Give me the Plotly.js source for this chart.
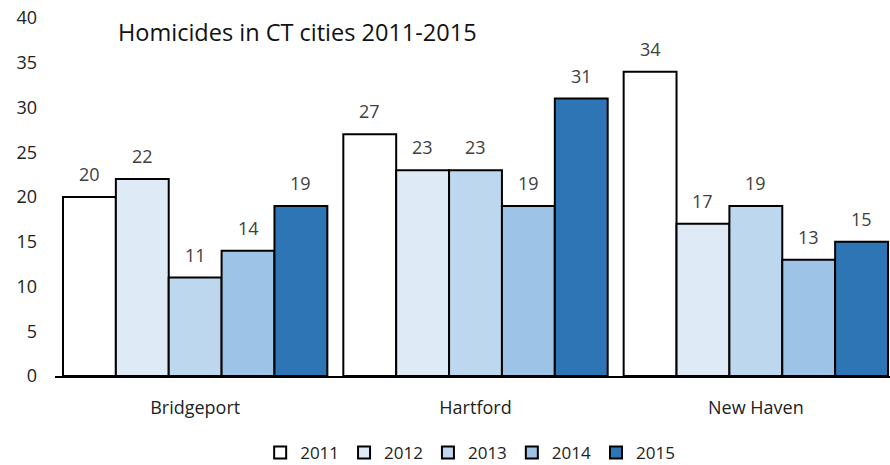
<!DOCTYPE html>
<html><head><meta charset="utf-8">
<script src="https://cdn.plot.ly/plotly-3.0.1.min.js"></script>
<style>html,body{margin:0;padding:0;background:#fff;overflow:hidden}#c{width:896px;height:465px}</style>
</head><body><div id="c"></div>
<script>
const cities = ["Bridgeport", "Hartford", "New Haven"];
const years = ["2011", "2012", "2013", "2014", "2015"];
const v2011 = [20, 27, 34];
const v2012 = [22, 23, 17];
const v2013 = [11, 23, 19];
const v2014 = [14, 19, 13];
const v2015 = [19, 31, 15];
const series = [v2011, v2012, v2013, v2014, v2015];
const colors = ["#FFFFFF", "#DEEBF7", "#BDD7EE", "#9DC3E6", "#2E75B6"];
const font = "Open Sans, Noto Sans, sans-serif";
const W = 896, ML = 55, MR = 0, BARGAP = 0.057;
const traces = series.map((vals, i) => ({
  type: "bar", name: years[i], x: cities, y: vals,
  marker: {color: colors[i], line: {color: "#000", width: 2}}
}));
const pitch = (W - ML - MR) / cities.length;
const barW = pitch * (1 - BARGAP) / series.length;
const annotations = [];
series.forEach((vals, i) => vals.forEach((v, j) => annotations.push({
  x: cities[j], y: v, text: String(v), showarrow: false,
  xanchor: "center", yanchor: "bottom", yshift: 9, xshift: (i - 2) * barW,
  font: {size: 18, color: "#404040", family: font}
})));
const layout = {
  width: W, height: 465,
  margin: {l: ML, r: MR, t: 18, b: 89, autoexpand: false},
  paper_bgcolor: "#fff", plot_bgcolor: "#fff",
  barmode: "group", bargap: BARGAP, bargroupgap: 0,
  font: {family: font, color: "#404040", size: 18},
  title: {text: "Homicides in CT cities 2011-2015", x: 118 / W, xanchor: "left", y: 1 - 33 / 465, yanchor: "middle",
          font: {size: 23.5, color: "#111", family: font}},
  xaxis: {showline: true, linecolor: "#000", linewidth: 2, ticks: "", tickfont: {size: 18, color: "#222"},
          ticklabelstandoff: 14, automargin: false},
  yaxis: {range: [0, 40], dtick: 5, showgrid: false, zeroline: false, showline: false, automargin: false,
          ticks: "", tickfont: {size: 18, color: "#222"}, ticklabelstandoff: 17},
  legend: {orientation: "h", x: (W - 6) / 2 / W - 0.003, xanchor: "center", y: -0.215, yanchor: "middle",
           font: {size: 17, color: "#222"}, itemwidth: 30, traceorder: "normal"},
  annotations: annotations,
  showlegend: true
};
Plotly.newPlot("c", traces, layout, {displayModeBar: false, staticPlot: true});
</script></body></html>
